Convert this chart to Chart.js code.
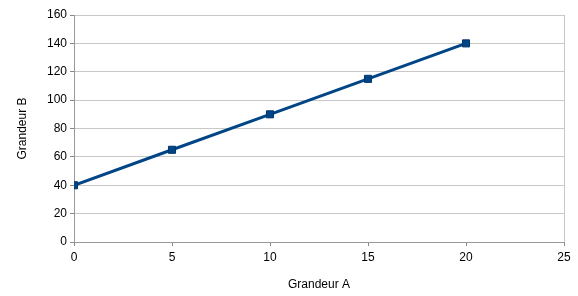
<!DOCTYPE html>
<html><head><meta charset="utf-8">
<script src="https://cdn.jsdelivr.net/npm/chart.js@4"></script>
<style>html,body{margin:0;padding:0;background:#fff}#wrap{width:578px;height:296px}</style>
</head><body><div id="wrap"><canvas id="c" width="578" height="296"></canvas></div>
<script>
const xValues = [0, 5, 10, 15, 20];
const yValues = [40, 65, 90, 115, 140];
const xTitle = "Grandeur A";
const yTitle = "Grandeur B";
const points = xValues.map((x, i) => ({x: x, y: yValues[i]}));
const font = {family: "'Liberation Sans', Arial, sans-serif", size: 12};
new Chart(document.getElementById('c'), {
  type: 'scatter',
  data: {datasets: [{
    data: points, showLine: true,
    borderColor: '#004586', backgroundColor: '#004586', borderWidth: 3,
    pointStyle: 'rect', pointRadius: 5, pointHoverRadius: 5,
    pointBorderColor: '#00356b', pointBorderWidth: 1
  }]},
  options: {
    responsive: false, animation: false,
    layout: {padding: {left: 0, right: 14, top: 15, bottom: 0}},
    plugins: {legend: {display: false}, tooltip: {enabled: false}},
    scales: {
      x: {
        type: 'linear', min: 0, max: 25,
        ticks: {stepSize: 5, color: '#000', font: font, padding: 4},
        grid: {color: c => c.index === 5 ? '#c8c8c8' : 'transparent', borderDash: [2, 2],
               tickColor: '#888', tickLength: 4, tickBorderDash: []},
        border: {color: '#999', width: 1},
        title: {display: true, text: xTitle, color: '#000', font: font, padding: {top: 8}},
        afterFit: s => { s.height = 54; }
      },
      y: {
        min: 0, max: 160,
        ticks: {stepSize: 20, color: '#000', font: font, padding: 3},
        grid: {color: '#c8c8c8', borderDash: [2, 2], tickColor: '#888', tickLength: 4, tickBorderDash: []},
        border: {color: '#999', width: 1},
        title: {display: true, text: yTitle, color: '#000', font: font, padding: {top: 15, bottom: 10}},
        afterFit: s => { s.width = 74; }
      }
    }
  }
});
</script></body></html>
